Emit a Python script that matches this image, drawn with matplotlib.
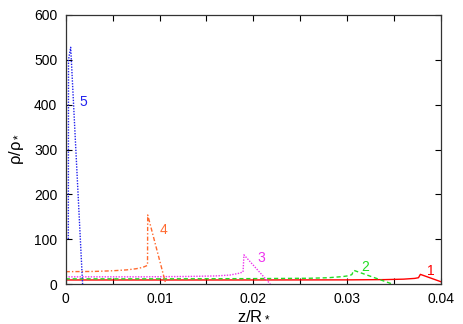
import matplotlib
matplotlib.use("Agg")
import matplotlib.pyplot as plt
import numpy as np

plt.rcParams['font.family'] = ['Liberation Sans', 'DejaVu Sans']
plt.rcParams['mathtext.fontset'] = 'custom'
plt.rcParams['mathtext.rm'] = 'Liberation Sans'
plt.rcParams['mathtext.it'] = 'Liberation Sans'

# Curve 1 (red, solid)
z1 = [0.0, 0.010, 0.020, 0.030, 0.034, 0.036, 0.0372, 0.0376, 0.0378, 0.040]
r1 = [9.0, 9.0, 9.0, 9.2, 9.8, 10.8, 12.5, 14.0, 21.5, 5.0]
# Curve 2 (green, dashed)
z2 = [0.0, 0.010, 0.020, 0.026, 0.028, 0.0295, 0.0302, 0.0305, 0.0307, 0.0348]
r2 = [11.5, 11.5, 12.0, 12.8, 14.0, 16.5, 18.5, 21.0, 30.5, 0.0]
# Curve 3 (magenta, dotted)
z3 = [0.0, 0.008, 0.013, 0.016, 0.0175, 0.0185, 0.0189, 0.0190, 0.0218]
r3 = [16.0, 16.0, 16.8, 18.0, 20.0, 24.0, 27.0, 65.0, 0.0]
# Curve 4 (orange, dash-dot)
z4 = [0.0, 0.003, 0.005, 0.0065, 0.0075, 0.0082, 0.0086, 0.00872, 0.00874, 0.01067]
r4 = [27.5, 28.0, 29.5, 31.5, 34.0, 37.0, 40.5, 42.0, 154.0, 0.0]
# Curve 5 (blue, dotted)
z5 = [0.0, 0.00028, 0.00030, 0.00053, 0.00060, 0.0018]
r5 = [100.0, 100.0, 500.0, 528.0, 500.0, 0.0]

labels = ['1', '2', '3', '4', '5']
label_z = [0.0389, 0.0319, 0.0208, 0.0104, 0.00188]
label_r = [30.0, 37.0, 57.0, 121.0, 407.0]
colors = ['#ff0000', '#22dd22', '#ee33ee', '#ff6a30', '#2222ee']

fig = plt.figure(figsize=(4.63, 3.24), dpi=100)
ax = fig.add_axes([65.7/463, (324-284)/324, (441-65.7)/463, (284-15)/324])

ax.plot(z1, r1, color=colors[0], lw=1.0, ls='-')
ax.plot(z2, r2, color=colors[1], lw=1.0, ls=(0, (3, 2)))
ax.plot(z3, r3, color=colors[2], lw=1.0, ls=(0, (1, 1)))
ax.plot(z4, r4, color=colors[3], lw=1.0, ls=(0, (3, 1.5, 1, 1.5)))
ax.plot(z5, r5, color=colors[4], lw=1.0, ls=(0, (1, 1)))

for t, zz, rr, c in zip(labels, label_z, label_r, colors):
    ax.text(zz, rr, t, color=c, fontsize=10, ha='center', va='center')

ax.set_xlim(0, 0.04)
ax.set_ylim(0, 600)
ax.set_xticks(np.arange(0, 0.0401, 0.005))
ax.set_xticklabels(['0', '', '0.01', '', '0.02', '', '0.03', '', '0.04'])
ax.set_yticks(np.arange(0, 601, 100))
ax.set_yticklabels(['0', '100', '200', '300', '400', '500', '600'])
ax.tick_params(direction='in', top=True, right=True, length=4, width=0.8, labelsize=10, pad=6)
for s in ax.spines.values():
    s.set_linewidth(0.9)
    s.set_color('#333333')

ax.set_xlabel('z/R$_*$', fontsize=12, labelpad=1)
ax.set_ylabel('ρ/ρ$_*$', fontsize=12, labelpad=6)

fig.savefig('out.png', dpi=100)
